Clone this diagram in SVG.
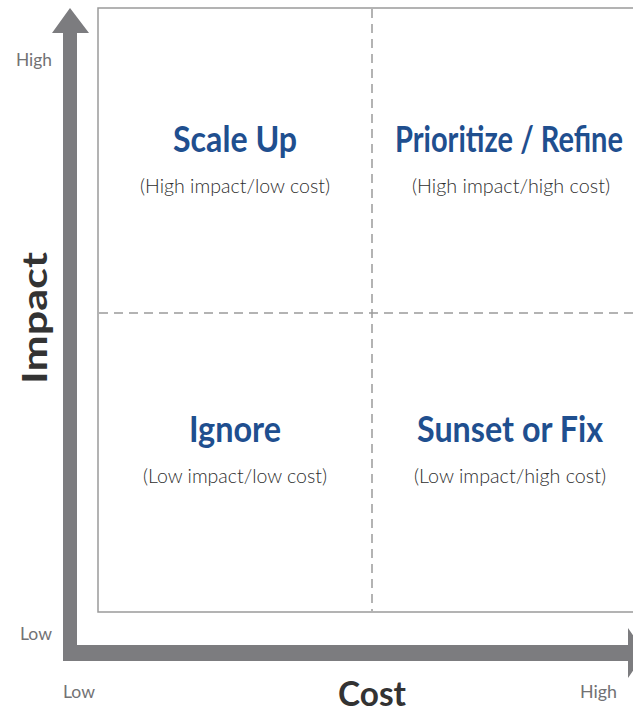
<svg xmlns="http://www.w3.org/2000/svg" width="633" height="713" viewBox="0 0 633 713">
  <style>
    .title { font-family: "Lato", "Noto Sans", sans-serif; font-weight: bold; font-size: 37px; fill: #1f4f8f; text-anchor: middle; }
    .sub { font-family: "Lato", "Noto Sans", sans-serif; font-weight: 300; font-size: 19px; fill: #2e2e2e; text-anchor: middle; }
    .tick { font-family: "Lato", "Noto Sans", sans-serif; font-size: 17px; fill: #727274; }
    .axis { font-family: "Lato", "Noto Sans", sans-serif; font-weight: bold; font-size: 34px; fill: #333333; text-anchor: middle; }
    .frame { fill: #ffffff; stroke: #9a9a9a; stroke-width: 1.5; }
    .dash { stroke: #9a9a9a; stroke-width: 1.5; stroke-dasharray: 9 6; fill: none; }
    .arrow { fill: #7c7c7f; }
  </style>

  <rect width="633" height="713" fill="#ffffff"/>

  <!-- plot frame and quadrant dividers -->
  <g id="grid">
    <rect class="frame" x="98" y="8" width="545" height="604"/>
    <line class="dash" x1="372" y1="9" x2="372" y2="611"/>
    <line class="dash" x1="99" y1="313" x2="633" y2="313"/>
  </g>

  <!-- axes -->
  <g id="connectors">
    <path class="arrow" d="M63 661 V33 H52 L70 8 L89 33 H77 V645 H628 V628 L645 653 L628 678 V661 Z"/>
  </g>

  <g id="quadrant-scale-up">
    <text class="title" x="235" y="152" textLength="124" lengthAdjust="spacingAndGlyphs">Scale Up</text>
    <text class="sub" x="235" y="193" textLength="190" lengthAdjust="spacingAndGlyphs">(High impact/low cost)</text>
  </g>
  <g id="quadrant-prioritize">
    <text class="title" x="509" y="152" textLength="228" lengthAdjust="spacingAndGlyphs">Prioritize / Refine</text>
    <text class="sub" x="511" y="193" textLength="198" lengthAdjust="spacingAndGlyphs">(High impact/high cost)</text>
  </g>
  <g id="quadrant-ignore">
    <text class="title" x="235" y="442" textLength="92" lengthAdjust="spacingAndGlyphs">Ignore</text>
    <text class="sub" x="235" y="483" textLength="184" lengthAdjust="spacingAndGlyphs">(Low impact/low cost)</text>
  </g>
  <g id="quadrant-sunset">
    <text class="title" x="510" y="442" textLength="186" lengthAdjust="spacingAndGlyphs">Sunset or Fix</text>
    <text class="sub" x="510" y="483" textLength="192" lengthAdjust="spacingAndGlyphs">(Low impact/high cost)</text>
  </g>

  <g id="labels">
    <text class="tick" x="16" y="66" textLength="36" lengthAdjust="spacingAndGlyphs">High</text>
    <text class="tick" x="20" y="640" textLength="32" lengthAdjust="spacingAndGlyphs">Low</text>
    <text class="tick" x="63" y="698" textLength="32" lengthAdjust="spacingAndGlyphs">Low</text>
    <text class="tick" x="580" y="698" textLength="37" lengthAdjust="spacingAndGlyphs">High</text>
    <text class="axis" x="372" y="706" textLength="68" lengthAdjust="spacingAndGlyphs">Cost</text>
    <text class="axis" transform="translate(47 318) rotate(-90)" x="0" y="0" textLength="132" lengthAdjust="spacingAndGlyphs">Impact</text>
  </g>
</svg>
